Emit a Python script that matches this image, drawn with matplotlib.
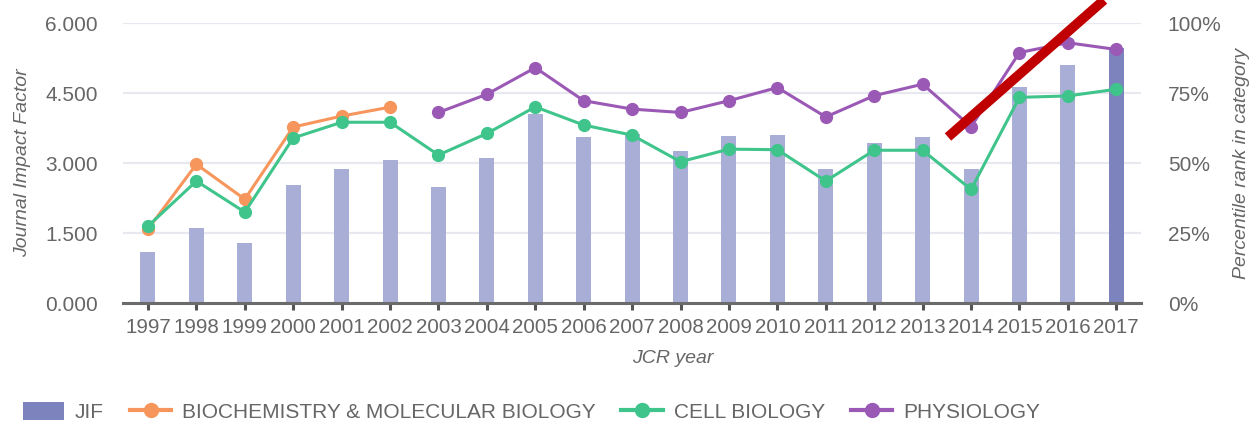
import matplotlib
matplotlib.use("Agg")
import matplotlib.pyplot as plt
import numpy as np
from matplotlib.lines import Line2D
from matplotlib.patches import Patch

plt.rcParams['font.family'] = ['Liberation Sans', 'DejaVu Sans']

years = list(range(1997, 2018))
jif = [1.09, 1.61, 1.29, 2.53, 2.87, 3.06, 2.49, 3.11, 4.05, 3.56, 3.62,
       3.26, 3.58, 3.60, 2.87, 3.43, 3.56, 2.87, 4.63, 5.10, 5.47]
# percentile rank per category (None = no value that year)
biochem = [26.4, 49.6, 37.1, 62.9, 66.8, 70.0] + [None] * 15
cellbio = [27.5, 43.6, 32.5, 59.0, 64.6, 64.6, 52.9, 60.6, 70.1, 63.6, 60.0,
           50.5, 55.0, 54.8, 43.6, 54.6, 54.6, 40.6, 73.5, 74.0, 76.4]
physio = [None] * 6 + [68.1, 74.6, 84.1, 72.3, 69.3, 68.1, 72.3, 77.0, 66.5,
                       74.1, 78.2, 63.0, 89.5, 93.0, 90.6]

left_ticks = [0, 1.5, 3.0, 4.5, 6.0]
right_ticks = [0, 25, 50, 75, 100]

c_bar = '#a9aed6'
c_bar_last = '#7d84bd'
c_orange = '#f7965c'
c_green = '#3fc48c'
c_purple = '#9b59b6'
c_text = '#666666'

fig = plt.figure(figsize=(12.53, 4.21), dpi=100)
ax = fig.add_axes([0.098, 0.280, 0.813, 0.665])

colors = [c_bar] * (len(years) - 1) + [c_bar_last]
ax.bar(years, jif, width=0.31, color=colors, zorder=2)
ax.set_xlim(1996.48, 2017.52)
ax.set_ylim(0, 6)
ax.set_yticks(left_ticks)
ax.set_yticklabels(['%.3f' % t for t in left_ticks])
ax.set_xticks(years)
ax.set_xticklabels([str(y) for y in years])
ax.grid(axis='y', color='#e8e8f0', linewidth=1.6, zorder=0)
ax.set_axisbelow(True)
for s in ['top', 'right', 'left']:
    ax.spines[s].set_visible(False)
ax.spines['bottom'].set_color('#6b6b6b')
ax.spines['bottom'].set_linewidth(2.2)
ax.tick_params(axis='x', colors='#555555', length=5, width=2.2, labelsize=14.8,
               labelcolor=c_text, pad=6)
ax.tick_params(axis='y', length=0, labelsize=15, labelcolor=c_text, pad=18)
ax.set_ylabel('Journal Impact Factor', fontsize=14, style='italic',
              color=c_text, labelpad=10)
ax.set_xlabel('JCR year', fontsize=14, style='italic', color=c_text,
              va='center')
ax.xaxis.set_label_coords(0.54, -0.197)

ax2 = ax.twinx()
ax2.set_ylim(0, 100)
ax2.set_yticks(right_ticks)
ax2.set_yticklabels(['%d%%' % t for t in right_ticks])
for s in ax2.spines.values():
    s.set_visible(False)
ax2.tick_params(axis='y', length=0, labelsize=15, labelcolor=c_text, pad=19)
ax2.set_ylabel('Percentile rank in category', fontsize=14, style='italic',
               color=c_text, labelpad=8)


def to_arr(vals):
    return np.array([np.nan if v is None else v for v in vals], dtype=float)


for vals, col in [(biochem, c_orange), (cellbio, c_green), (physio, c_purple)]:
    ax2.plot(years, to_arr(vals), color=col, linewidth=2.2, marker='o',
             markersize=8.5, zorder=3)

# red highlight stroke
fig.add_artist(Line2D([948 / 1253, 1104 / 1253], [1 - 137 / 421, 1.0],
                      transform=fig.transFigure, color='#c00000',
                      linewidth=7, solid_capstyle='butt', zorder=10))

handles = [
    Patch(facecolor=c_bar_last, edgecolor='none'),
    Line2D([], [], color=c_orange, linewidth=3, marker='o', markersize=10),
    Line2D([], [], color=c_green, linewidth=3, marker='o', markersize=10),
    Line2D([], [], color=c_purple, linewidth=3, marker='o', markersize=10),
]
labels = ['JIF', 'BIOCHEMISTRY & MOLECULAR BIOLOGY', 'CELL BIOLOGY', 'PHYSIOLOGY']
leg = fig.legend(handles, labels, loc='center left', bbox_to_anchor=(0.018, 0.022),
                 ncol=4, frameon=False, fontsize=15, handlelength=2.0,
                 handleheight=1.0, handletextpad=0.5, columnspacing=1.25,
                 borderaxespad=0, borderpad=0)
for t in leg.get_texts():
    t.set_color(c_text)

fig.savefig('out.png', dpi=100)
